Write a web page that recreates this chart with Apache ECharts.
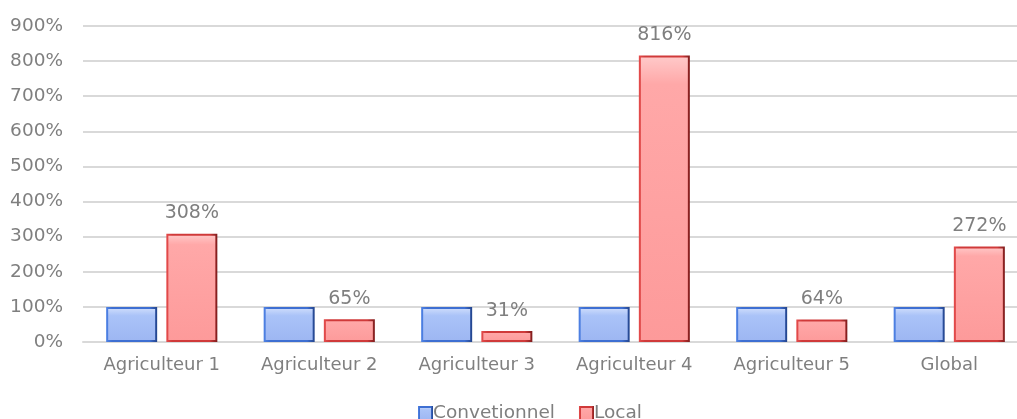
<!DOCTYPE html>
<html>
<head>
<meta charset="utf-8">
<script src="https://cdn.jsdelivr.net/npm/echarts@6/dist/echarts.min.js"></script>
<style>
  html, body { margin: 0; padding: 0; background: #ffffff; overflow: hidden; }
  #wrap { width: 1017px; height: 419px; overflow: hidden; }
  #chart { width: 1028px; height: 419px; }
</style>
</head>
<body>
<div id="wrap"><div id="chart"></div></div>
<script>
// Farms compared, in percent of the conventional baseline
const categories = ['Agriculteur 1', 'Agriculteur 2', 'Agriculteur 3', 'Agriculteur 4', 'Agriculteur 5', 'Global'];
const conventionnel = [100, 100, 100, 100, 100, 100];
const local = [308, 65, 31, 816, 64, 272];
const seriesNames = ['Convetionnel', 'Local'];

const FONT = '"DejaVu Sans", "Liberation Sans", Arial, sans-serif';
const TEXT = '#7f7f7f';

// Border gradient: lighter on the left edge, darker on the right edge
function bevel(light, mid, dark) {
  return new echarts.graphic.LinearGradient(0, 0, 1, 0, [
    { offset: 0, color: light },
    { offset: 0.12, color: mid },
    { offset: 0.85, color: mid },
    { offset: 1, color: dark }
  ]);
}

const blueFill = new echarts.graphic.LinearGradient(0, 0, 0, 1, [
  { offset: 0, color: '#d3e0fc' },
  { offset: 0.25, color: '#aac3f8' },
  { offset: 1, color: '#9db6f2' }
]);
const redFill = new echarts.graphic.LinearGradient(0, 0, 0, 1, [
  { offset: 0, color: '#ffcaca' },
  { offset: 0.1, color: '#ffa8a8' },
  { offset: 1, color: '#fd9a9a' }
]);

const chart = echarts.init(document.getElementById('chart'), null, { renderer: 'canvas' });

chart.setOption({
  animation: false,
  textStyle: { fontFamily: FONT },
  grid: { left: 83, top: 26, right: 0, height: 316, containLabel: false },
  legend: {
    top: 399,
    left: 413,
    itemWidth: 13,
    itemHeight: 13,
    itemGap: 24,
    icon: 'rect',
    textStyle: { color: TEXT, fontSize: 18.5, fontFamily: FONT, padding: [0, 0, 0, -4] },
    data: seriesNames
  },
  xAxis: {
    type: 'category',
    data: categories,
    axisLine: { show: true, lineStyle: { color: '#d9d9d9', width: 2 } },
    axisTick: { show: false },
    axisLabel: { color: TEXT, fontSize: 18, fontFamily: FONT, margin: 14 }
  },
  yAxis: {
    type: 'value',
    min: 0,
    max: 900,
    interval: 100,
    axisLine: { show: false },
    axisTick: { show: false },
    splitLine: { lineStyle: { color: '#d9d9d9', width: 2 } },
    axisLabel: { color: TEXT, fontSize: 18.5, fontFamily: FONT, margin: 20, formatter: '{value}%' }
  },
  series: [
    {
      name: seriesNames[0],
      type: 'bar',
      data: conventionnel,
      barWidth: 51,
      barGap: '18%',
      itemStyle: {
        color: blueFill,
        borderColor: bevel('#4f82e4', '#3e6fd2', '#23448c'),
        borderWidth: 2
      }
    },
    {
      name: seriesNames[1],
      type: 'bar',
      data: local,
      barWidth: 51,
      itemStyle: {
        color: redFill,
        borderColor: bevel('#e44c4c', '#d03a3a', '#7e1c1c'),
        borderWidth: 2
      },
      label: {
        show: true,
        position: 'top',
        distance: 11,
        color: TEXT,
        fontSize: 19,
        fontFamily: FONT,
        formatter: p => p.value + '%'
      }
    }
  ]
});
</script>
</body>
</html>
